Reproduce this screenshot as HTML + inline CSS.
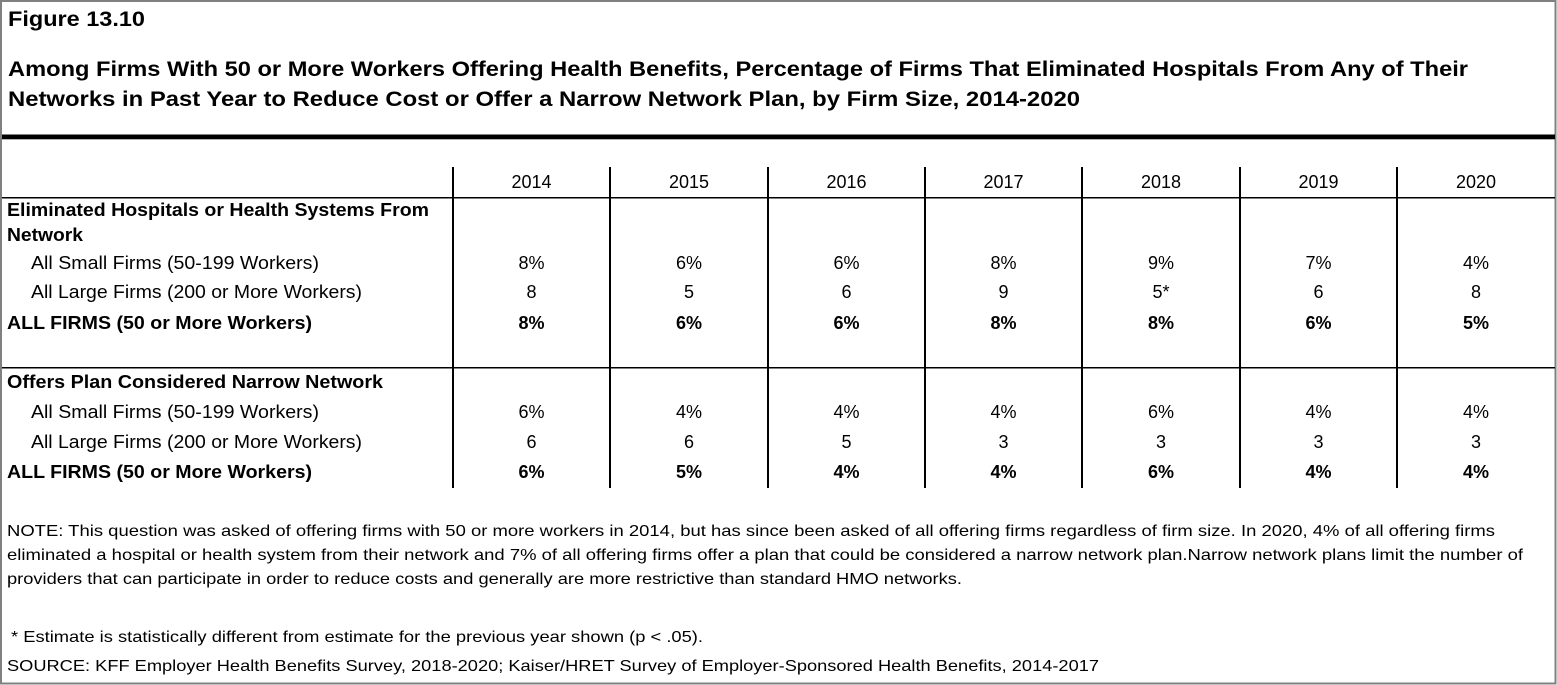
<!DOCTYPE html>
<html>
<head>
<meta charset="utf-8">
<style>
html,body{margin:0;padding:0;background:#fff;}
svg{display:block;}
text{font-family:"Liberation Sans",Arial,sans-serif;fill:#000;}
.b{font-weight:bold;}
.t{font-size:21px;font-weight:bold;}
.r{font-size:18px;}
.n{font-size:16px;}
.c{text-anchor:middle;font-size:18px;}
</style>
</head>
<body>
<svg width="1557" height="685" viewBox="0 0 1557 685" xmlns="http://www.w3.org/2000/svg">
<rect x="0" y="0" width="1557" height="685" fill="#fff"/>
<rect x="1" y="1" width="1554.5" height="682.5" fill="none" stroke="#808080" stroke-width="2"/>

<!-- Titles -->
<text class="t" x="8" y="26" textLength="137" lengthAdjust="spacingAndGlyphs">Figure 13.10</text>
<text class="t" x="8" y="76" textLength="1460" lengthAdjust="spacingAndGlyphs">Among Firms With 50 or More Workers Offering Health Benefits, Percentage of Firms That Eliminated Hospitals From Any of Their</text>
<text class="t" x="8" y="106" textLength="1072" lengthAdjust="spacingAndGlyphs">Networks in Past Year to Reduce Cost or Offer a Narrow Network Plan, by Firm Size, 2014-2020</text>

<!-- thick rule -->
<rect x="2" y="134.5" width="1553" height="4.8" fill="#000"/>

<!-- grid lines -->
<g stroke="#000" stroke-width="2">
<line x1="453" y1="167" x2="453" y2="488"/>
<line x1="610" y1="167" x2="610" y2="488"/>
<line x1="768" y1="167" x2="768" y2="488"/>
<line x1="925" y1="167" x2="925" y2="488"/>
<line x1="1082" y1="167" x2="1082" y2="488"/>
<line x1="1240" y1="167" x2="1240" y2="488"/>
<line x1="1397" y1="167" x2="1397" y2="488"/>
</g>
<g stroke="#000" stroke-width="1.5">
<line x1="2" y1="197.75" x2="1555" y2="197.75"/>
<line x1="2" y1="367.75" x2="1555" y2="367.75"/>
</g>

<!-- header years -->
<text class="c" x="531.5" y="188">2014</text>
<text class="c" x="689" y="188">2015</text>
<text class="c" x="846.5" y="188">2016</text>
<text class="c" x="1003.5" y="188">2017</text>
<text class="c" x="1161" y="188">2018</text>
<text class="c" x="1318.5" y="188">2019</text>
<text class="c" x="1476" y="188">2020</text>

<!-- Section 1 labels -->
<text class="r b" x="7" y="216" textLength="422" lengthAdjust="spacingAndGlyphs">Eliminated Hospitals or Health Systems From</text>
<text class="r b" x="7" y="241" textLength="76" lengthAdjust="spacingAndGlyphs">Network</text>
<text class="r" x="31" y="269" textLength="288" lengthAdjust="spacingAndGlyphs">All Small Firms (50-199 Workers)</text>
<text class="r" x="31" y="298" textLength="331" lengthAdjust="spacingAndGlyphs">All Large Firms (200 or More Workers)</text>
<text class="r b" x="7" y="329" textLength="305" lengthAdjust="spacingAndGlyphs">ALL FIRMS (50 or More Workers)</text>

<!-- Section 1 data -->
<g>
<text class="c" x="531.5" y="269">8%</text>
<text class="c" x="689" y="269">6%</text>
<text class="c" x="846.5" y="269">6%</text>
<text class="c" x="1003.5" y="269">8%</text>
<text class="c" x="1161" y="269">9%</text>
<text class="c" x="1318.5" y="269">7%</text>
<text class="c" x="1476" y="269">4%</text>

<text class="c" x="531.5" y="298">8</text>
<text class="c" x="689" y="298">5</text>
<text class="c" x="846.5" y="298">6</text>
<text class="c" x="1003.5" y="298">9</text>
<text class="c" x="1161" y="298">5*</text>
<text class="c" x="1318.5" y="298">6</text>
<text class="c" x="1476" y="298">8</text>

<text class="c b" x="531.5" y="329">8%</text>
<text class="c b" x="689" y="329">6%</text>
<text class="c b" x="846.5" y="329">6%</text>
<text class="c b" x="1003.5" y="329">8%</text>
<text class="c b" x="1161" y="329">8%</text>
<text class="c b" x="1318.5" y="329">6%</text>
<text class="c b" x="1476" y="329">5%</text>
</g>

<!-- Section 2 labels -->
<text class="r b" x="7" y="388" textLength="376" lengthAdjust="spacingAndGlyphs">Offers Plan Considered Narrow Network</text>
<text class="r" x="31" y="418" textLength="288" lengthAdjust="spacingAndGlyphs">All Small Firms (50-199 Workers)</text>
<text class="r" x="31" y="448" textLength="331" lengthAdjust="spacingAndGlyphs">All Large Firms (200 or More Workers)</text>
<text class="r b" x="7" y="478" textLength="305" lengthAdjust="spacingAndGlyphs">ALL FIRMS (50 or More Workers)</text>

<!-- Section 2 data -->
<g>
<text class="c" x="531.5" y="418">6%</text>
<text class="c" x="689" y="418">4%</text>
<text class="c" x="846.5" y="418">4%</text>
<text class="c" x="1003.5" y="418">4%</text>
<text class="c" x="1161" y="418">6%</text>
<text class="c" x="1318.5" y="418">4%</text>
<text class="c" x="1476" y="418">4%</text>

<text class="c" x="531.5" y="448">6</text>
<text class="c" x="689" y="448">6</text>
<text class="c" x="846.5" y="448">5</text>
<text class="c" x="1003.5" y="448">3</text>
<text class="c" x="1161" y="448">3</text>
<text class="c" x="1318.5" y="448">3</text>
<text class="c" x="1476" y="448">3</text>

<text class="c b" x="531.5" y="478">6%</text>
<text class="c b" x="689" y="478">5%</text>
<text class="c b" x="846.5" y="478">4%</text>
<text class="c b" x="1003.5" y="478">4%</text>
<text class="c b" x="1161" y="478">6%</text>
<text class="c b" x="1318.5" y="478">4%</text>
<text class="c b" x="1476" y="478">4%</text>
</g>

<!-- Notes -->
<text class="n" x="7" y="536" textLength="1488" lengthAdjust="spacingAndGlyphs">NOTE: This question was asked of offering firms with 50 or more workers in 2014, but has since been asked of all offering firms regardless of firm size. In 2020, 4% of all offering firms</text>
<text class="n" x="7" y="560" textLength="1516" lengthAdjust="spacingAndGlyphs">eliminated a hospital or health system from their network and 7% of all offering firms offer a plan that could be considered a narrow network plan.Narrow network plans limit the number of</text>
<text class="n" x="7" y="584" textLength="955" lengthAdjust="spacingAndGlyphs">providers that can participate in order to reduce costs and generally are more restrictive than standard HMO networks.</text>
<text class="n" x="11" y="642" textLength="692" lengthAdjust="spacingAndGlyphs">* Estimate is statistically different from estimate for the previous year shown (p &lt; .05).</text>
<text class="n" x="7" y="671" textLength="1092" lengthAdjust="spacingAndGlyphs">SOURCE: KFF Employer Health Benefits Survey, 2018-2020; Kaiser/HRET Survey of Employer-Sponsored Health Benefits, 2014-2017</text>
</svg>
</body>
</html>
